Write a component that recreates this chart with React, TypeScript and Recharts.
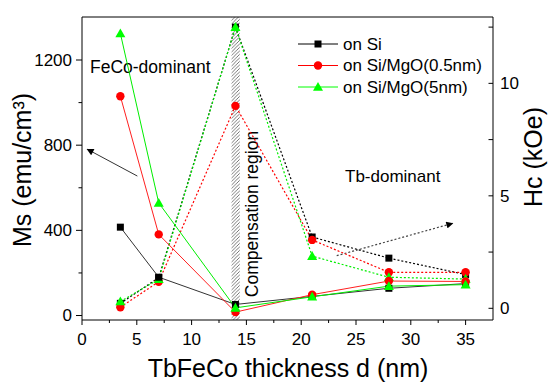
import React from 'react';
import { LineChart, Line, XAxis, YAxis, ReferenceArea, ReferenceLine, Legend } from 'recharts';

// TbFeCo thickness (nm)
const thickness = [3.5, 7, 14, 21, 28, 35];

// Ms (emu/cm3), solid lines, left axis
const msSi = [415, 180, 52, 90, 128, 150];
const msMgO05 = [1030, 381, 16, 98, 162, 160];
const msMgO5 = [1325, 529, 36, 88, 138, 145];

// Hc (kOe), dotted lines, right axis
const hcSi = [0.22, 1.36, 12.5, 3.17, 2.23, 1.5];
const hcMgO05 = [0.05, 1.18, 9.0, 3.04, 1.6, 1.6];
const hcMgO5 = [0.3, 1.29, 12.5, 2.32, 1.38, 1.3];

const seriesNames = ['on Si', 'on Si/MgO(0.5nm)', 'on Si/MgO(5nm)'];
const seriesColors = ['#000000', '#ff0000', '#00ff00'];

const xTicks = [0, 2.5, 5, 7.5, 10, 12.5, 15, 17.5, 20, 22.5, 25, 27.5, 30, 32.5, 35];
const msTicks = [0, 200, 400, 600, 800, 1000, 1200];
const hcTicks = [0, 2.5, 5, 7.5, 10, 12.5];

const data = thickness.map((d, i) => ({
  d,
  msSi: msSi[i],
  msMgO05: msMgO05[i],
  msMgO5: msMgO5[i],
  hcSi: hcSi[i],
  hcMgO05: hcMgO05[i],
  hcMgO5: hcMgO5[i],
}));

const FONT = '"Liberation Sans", Arial, sans-serif';

const Marker = ({ shape, color, cx, cy }: { shape: number; color: string; cx: number; cy: number }) => {
  if (shape === 0) return <rect x={cx - 3.5} y={cy - 3.5} width={7} height={7} fill={color} />;
  if (shape === 1) return <circle cx={cx} cy={cy} r={4.2} fill={color} />;
  return <polygon points={`${cx},${cy - 5} ${cx + 5},${cy + 3.8} ${cx - 5},${cy + 3.8}`} fill={color} />;
};

const makeDot = (shape: number, color: string) => (props: any) => {
  const { cx, cy, index } = props;
  if (cx == null || cy == null) return <g key={index} />;
  return <Marker key={index} shape={shape} color={color} cx={cx} cy={cy} />;
};

const LeftTick = (props: any) => {
  const { x, y, payload } = props;
  const major = payload.value % 400 === 0;
  return (
    <g>
      <line x1={x - (major ? 6 : 3.5)} x2={x} y1={y} y2={y} stroke="#000" />
      {major && (
        <text x={x - 10} y={y} dy="0.35em" textAnchor="end" fontSize={17} fontFamily={FONT} fill="#000">
          {payload.value}
        </text>
      )}
    </g>
  );
};

const RightTick = (props: any) => {
  const { x, y, payload } = props;
  const major = payload.value % 5 === 0;
  return (
    <g>
      <line x1={x - 4.5} x2={x} y1={y} y2={y} stroke="#000" />
      {major && (
        <text x={x + 7} y={y} dy="0.35em" textAnchor="start" fontSize={17} fontFamily={FONT} fill="#000">
          {payload.value}
        </text>
      )}
    </g>
  );
};

const BottomTick = (props: any) => {
  const { x, y, payload } = props;
  const major = payload.value % 5 === 0;
  return (
    <g>
      <line x1={x} x2={x} y1={y} y2={y + (major ? 5 : 3)} stroke="#000" />
      {major && (
        <text x={x} y={y + 25} textAnchor="middle" fontSize={17} fontFamily={FONT} fill="#000">
          {payload.value}
        </text>
      )}
    </g>
  );
};

const LegendBox = () => (
  <svg width={200} height={70} style={{ display: 'block' }}>
    {seriesNames.map((name, i) => {
      const y = 10 + i * 21.5;
      return (
        <g key={name}>
          <line x1={2} x2={42} y1={y} y2={y} stroke={seriesColors[i]} strokeWidth={1} />
          <Marker shape={i} color={seriesColors[i]} cx={22} cy={y} />
          <text x={47} y={y} dy="0.35em" fontSize={17} fontFamily={FONT} fill="#000">
            {name}
          </text>
        </g>
      );
    })}
  </svg>
);

const CompLabel = (props: any) => {
  const { viewBox } = props;
  const x = viewBox.x + viewBox.width + 12;
  const y = 214;
  return (
    <text
      x={x}
      y={y}
      transform={`rotate(-90 ${x} ${y})`}
      textAnchor="middle"
      dy="0.35em"
      fontSize={17.5}
      fontFamily={FONT}
      fill="#000"
    >
      Compensation region
    </text>
  );
};

export default function App() {
  return (
    <div style={{ position: 'absolute', left: 0, top: 0, width: 550, height: 390, background: '#fff' }}>
      <LineChart width={550} height={390} data={data} margin={{ top: 17, right: 17, bottom: 30, left: 22 }}>
        <defs>
          <pattern id="hatch" width="3.5" height="3.5" patternUnits="userSpaceOnUse">
            <rect width="3.5" height="3.5" fill="#fff" />
            <path d="M-1,1 l2,-2 M0,3.5 l3.5,-3.5 M2.5,4.5 l2,-2" stroke="#555" strokeWidth={0.8} />
          </pattern>
          <marker id="arrowHead" viewBox="0 0 10 10" refX="9" refY="5" markerWidth="9" markerHeight="7" orient="auto" markerUnits="userSpaceOnUse">
            <path d="M0,0 L10,5 L0,10 z" fill="#000" />
          </marker>
        </defs>
        <XAxis
          dataKey="d"
          type="number"
          domain={[0, 37.5]}
          ticks={xTicks}
          interval={0}
          height={40}
          tickSize={0}
          tickMargin={0}
          tickLine={false}
          tick={<BottomTick />}
          axisLine={{ stroke: '#000' }}
        />
        <YAxis
          yAxisId="left"
          type="number"
          domain={[-21, 1402]}
          ticks={msTicks}
          interval={0}
          width={60}
          tickSize={0}
          tickMargin={0}
          tickLine={false}
          tick={<LeftTick />}
          axisLine={{ stroke: '#000' }}
        />
        <YAxis
          yAxisId="right"
          orientation="right"
          type="number"
          domain={[-0.52, 12.95]}
          ticks={hcTicks}
          interval={0}
          width={40}
          tickSize={0}
          tickMargin={0}
          tickLine={false}
          tick={<RightTick />}
          axisLine={{ stroke: '#000' }}
        />
        <ReferenceLine yAxisId="left" y={1402} stroke="#000" />
        <ReferenceArea
          yAxisId="left"
          x1={13.65}
          x2={14.4}
          y1={-21}
          y2={1402}
          fill="url(#hatch)"
          fillOpacity={1}
          stroke="none"
          label={<CompLabel />}
        />
        <ReferenceLine
          yAxisId="left"
          segment={[{ x: 5.05, y: 655 }, { x: 0.48, y: 781 }]}
          stroke="#333"
          strokeWidth={1}
          markerEnd="url(#arrowHead)"
        />
        <ReferenceLine
          yAxisId="left"
          segment={[{ x: 23.24, y: 281 }, { x: 33.82, y: 433 }]}
          stroke="#444"
          strokeWidth={1.2}
          strokeDasharray="2 2"
          markerEnd="url(#arrowHead)"
        />
        <text x={90} y={73} fontSize={17.5} fontFamily={FONT} fill="#000">FeCo-dominant</text>
        <text x={345} y={182} fontSize={17} fontFamily={FONT} fill="#000">Tb-dominant</text>
        <text
          x={22}
          y={170}
          transform="rotate(-90 22 170)"
          textAnchor="middle"
          dy="0.35em"
          fontSize={25}
          fontFamily={FONT}
          fill="#000"
        >
          Ms (emu/cm³)
        </text>
        <text
          x={533}
          y={157}
          transform="rotate(-90 533 157)"
          textAnchor="middle"
          dy="0.35em"
          fontSize={25}
          fontFamily={FONT}
          fill="#000"
        >
          Hc (kOe)
        </text>
        <text x={288} y={377} textAnchor="middle" fontSize={25} fontFamily={FONT} fill="#000">
          TbFeCo thickness d (nm)
        </text>

        <Line yAxisId="right" dataKey="hcSi" stroke="#000" strokeWidth={1.2} strokeDasharray="2 2" dot={makeDot(0, '#000')} activeDot={false} isAnimationActive={false} legendType="none" />
        <Line yAxisId="right" dataKey="hcMgO05" stroke="#ff0000" strokeWidth={1.2} strokeDasharray="2 2" dot={makeDot(1, '#ff0000')} activeDot={false} isAnimationActive={false} legendType="none" />
        <Line yAxisId="right" dataKey="hcMgO5" stroke="#00ee00" strokeWidth={1.2} strokeDasharray="2 2" dot={makeDot(2, '#00ff00')} activeDot={false} isAnimationActive={false} legendType="none" />
        <Line yAxisId="left" dataKey="msSi" name={seriesNames[0]} stroke="#333" strokeWidth={1} dot={makeDot(0, '#000')} activeDot={false} isAnimationActive={false} />
        <Line yAxisId="left" dataKey="msMgO05" name={seriesNames[1]} stroke="#ff2020" strokeWidth={1} dot={makeDot(1, '#ff0000')} activeDot={false} isAnimationActive={false} />
        <Line yAxisId="left" dataKey="msMgO5" name={seriesNames[2]} stroke="#00ee00" strokeWidth={1} dot={makeDot(2, '#00ff00')} activeDot={false} isAnimationActive={false} />
        <Legend
          layout="horizontal"
          verticalAlign="middle"
          align="center"
          content={<LegendBox />}
          wrapperStyle={{ position: 'absolute', left: 296, top: 34, width: 200, height: 70 }}
        />
      </LineChart>
    </div>
  );
}
